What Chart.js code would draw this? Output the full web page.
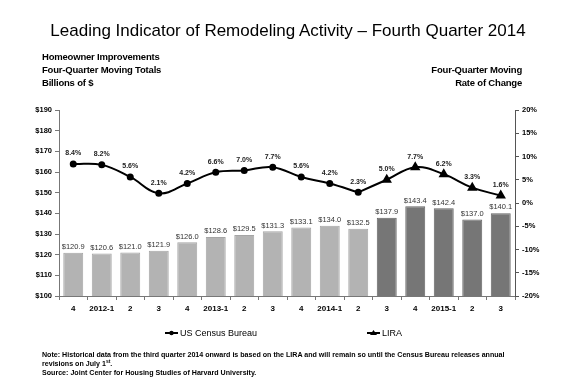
<!DOCTYPE html>
<html>
<head>
<meta charset="utf-8">
<script src="https://cdn.jsdelivr.net/npm/chart.js@4.4.1/dist/chart.umd.min.js"></script>
<style>
  body { margin: 0; background: #fff; font-family: "Liberation Sans", Arial, sans-serif; }
  #wrap { position: relative; width: 576px; height: 384px; overflow: hidden; }
  #chart { position: absolute; left: 0; top: 0; }
  .t { position: absolute; color: #000; white-space: nowrap; }
  #title { left: 0; width: 576px; top: 21px; text-align: center; font-size: 17px; }
  #lhead { left: 42px; top: 50px; font-size: 9.5px; font-weight: bold; line-height: 13px; letter-spacing: -0.2px; }
  #rhead { right: 54px; top: 63px; font-size: 9.5px; font-weight: bold; line-height: 13px; text-align: right; letter-spacing: -0.2px; }
  #note { left: 42px; top: 351px; font-size: 7.1px; font-weight: bold; line-height: 8.8px; }
  sup { font-size: 5px; line-height: 0; }
</style>
</head>
<body>
<div id="wrap">
  <canvas id="chart" width="576" height="384"></canvas>
  <div class="t" id="title">Leading Indicator of Remodeling Activity – Fourth Quarter 2014</div>
  <div class="t" id="lhead">Homeowner Improvements<br>Four-Quarter Moving Totals<br>Billions of $</div>
  <div class="t" id="rhead">Four-Quarter Moving<br>Rate of Change</div>
  <div class="t" id="note">Note: Historical data from the third quarter 2014 onward is based on the LIRA and will remain so until the Census Bureau releases annual<br>revisions on July 1<sup>st</sup>.<br>Source: Joint Center for Housing Studies of Harvard University.</div>
</div>
<script>
// quarters along the bottom
const quarters = ['4', '2012-1', '2', '3', '4', '2013-1', '2', '3', '4', '2014-1', '2', '3', '4', '2015-1', '2', '3'];
// four-quarter moving totals, billions of $
const totals = [120.9, 120.6, 121.0, 121.9, 126.0, 128.6, 129.5, 131.3, 133.1, 134.0, 132.5, 137.9, 143.4, 142.4, 137.0, 140.1];
// rate of change, %
const censusRate = [8.4, 8.2, 5.6, 2.1, 4.2, 6.6, 7.0, 7.7, 5.6, 4.2, 2.3, null, null, null, null, null];
const liraRate = [null, null, null, null, null, null, null, null, null, null, 2.3, 5.0, 7.7, 6.2, 3.3, 1.6];
const firstLira = 11; // bars from here on are LIRA estimates

const barColors = totals.map((v, i) => i < firstLira ? '#b3b3b3' : '#767676');
const barBorders = totals.map((v, i) => i < firstLira ? '#a5a5a5' : '#666666');

const FONT = '"Liberation Sans", Arial, sans-serif';

// value labels above bars and points, plus the legend
const labelsPlugin = {
  id: 'labels',
  afterDatasetsDraw(chart) {
    const ctx = chart.ctx;
    ctx.save();
    ctx.textAlign = 'center';
    ctx.textBaseline = 'bottom';

    ctx.font = '7.5px ' + FONT;
    ctx.fillStyle = '#333';
    chart.getDatasetMeta(0).data.forEach((bar, i) => {
      ctx.fillText('$' + totals[i].toFixed(1), bar.x, bar.y - 2);
    });

    ctx.font = 'bold 7px ' + FONT;
    ctx.fillStyle = '#222';
    chart.getDatasetMeta(1).data.forEach((pt, i) => {
      if (censusRate[i] == null) return;
      ctx.fillText(censusRate[i].toFixed(1) + '%', pt.x, pt.y - 7);
    });
    chart.getDatasetMeta(2).data.forEach((pt, i) => {
      if (liraRate[i] == null || i < firstLira) return;
      ctx.fillText(liraRate[i].toFixed(1) + '%', pt.x, pt.y - 7);
    });

    // legend
    const ly = 333;
    ctx.strokeStyle = '#000';
    ctx.fillStyle = '#000';
    ctx.lineWidth = 2;
    ctx.beginPath(); ctx.moveTo(165, ly); ctx.lineTo(178, ly); ctx.stroke();
    ctx.beginPath(); ctx.arc(171.5, ly, 2.2, 0, Math.PI * 2); ctx.fill();
    ctx.beginPath(); ctx.moveTo(367, ly); ctx.lineTo(380, ly); ctx.stroke();
    ctx.beginPath(); ctx.moveTo(373.5, ly - 3); ctx.lineTo(377, ly + 2); ctx.lineTo(370, ly + 2); ctx.closePath(); ctx.fill();
    ctx.font = '9px ' + FONT;
    ctx.textAlign = 'left';
    ctx.textBaseline = 'middle';
    ctx.fillText('US Census Bureau', 180, ly + 0.5);
    ctx.fillText('LIRA', 382, ly + 0.5);
    ctx.restore();
  }
};

new Chart(document.getElementById('chart').getContext('2d'), {
  data: {
    labels: quarters,
    datasets: [
      {
        type: 'bar',
        data: totals,
        yAxisID: 'y',
        backgroundColor: barColors,
        borderColor: barBorders,
        borderWidth: 1,
        barPercentage: 0.7,
        categoryPercentage: 1,
        order: 2
      },
      {
        type: 'line',
        data: censusRate,
        yAxisID: 'y1',
        borderColor: '#000',
        backgroundColor: '#000',
        borderWidth: 2,
        tension: 0.4,
        pointRadius: 2.5,
        pointStyle: 'circle',
        order: 1
      },
      {
        type: 'line',
        data: liraRate,
        yAxisID: 'y1',
        borderColor: '#000',
        backgroundColor: '#000',
        borderWidth: 2,
        tension: 0.4,
        pointRadius: liraRate.map((v, i) => i < firstLira ? 0 : 4),
        pointStyle: 'triangle',
        order: 0
      }
    ]
  },
  options: {
    responsive: false,
    animation: false,
    layout: { padding: { left: 0, right: 0, top: 110, bottom: 58 } },
    plugins: { legend: { display: false }, tooltip: { enabled: false } },
    scales: {
      x: {
        offset: true,
        grid: { display: true, drawOnChartArea: false, offset: true, tickLength: 4, color: '#777' },
        border: { color: '#777' },
        ticks: { color: '#000', font: { family: FONT, size: 8, weight: 'bold' }, maxRotation: 0, autoSkip: false, padding: 4 },
        afterFit(s) { s.height = 30; }
      },
      y: {
        position: 'left',
        min: 100, max: 190,
        grid: { display: true, drawOnChartArea: false, tickLength: 4, color: '#777' },
        border: { color: '#777' },
        ticks: { stepSize: 10, color: '#000', padding: 3, font: { family: FONT, size: 7.5, weight: 'bold' }, callback: v => '$' + v },
        afterFit(s) { s.width = 59; }
      },
      y1: {
        position: 'right',
        min: -20, max: 20,
        grid: { display: true, drawOnChartArea: false, tickLength: 4, color: '#555' },
        border: { color: '#555' },
        ticks: { stepSize: 5, color: '#000', padding: 3, font: { family: FONT, size: 7.5, weight: 'bold' }, callback: v => v + '%' },
        afterFit(s) { s.width = 61; }
      }
    }
  },
  plugins: [labelsPlugin]
});
</script>
</body>
</html>
